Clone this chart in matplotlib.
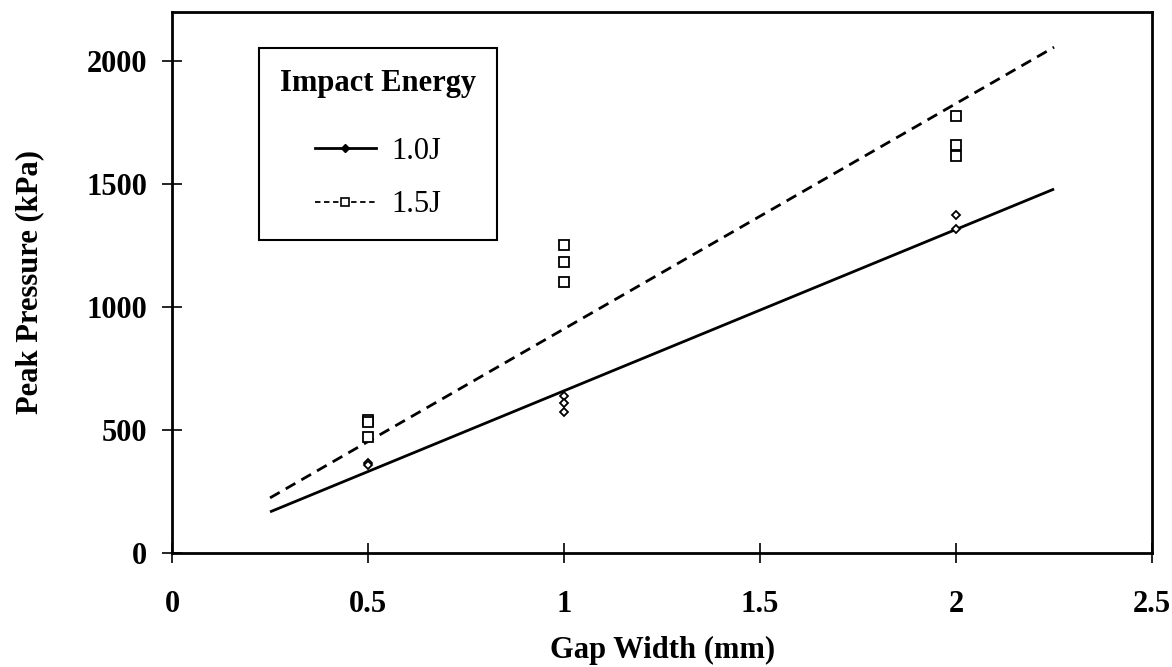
import matplotlib
matplotlib.use('Agg')
import matplotlib.pyplot as plt
from matplotlib.lines import Line2D

plt.rcParams['font.family'] = ['Liberation Serif', 'DejaVu Serif']

# measured peak pressures (kPa)
gap_10 = [0.5, 0.5, 1, 1, 1, 2, 2]
p_10 = [366, 358, 640, 610, 575, 1374, 1317]
gap_15 = [0.5, 0.5, 0.5, 1, 1, 1, 2, 2, 2]
p_15 = [541, 533, 472, 1252, 1183, 1102, 1776, 1659, 1614]

# trend lines, end points
trend_x = [0.25, 2.25]
trend_10 = [167, 1480]
trend_15 = [224, 2057]

xticks = [0, 0.5, 1, 1.5, 2, 2.5]
xtick_labels = ['0', '0.5', '1', '1.5', '2', '2.5']
yticks = [0, 500, 1000, 1500, 2000]

fig = plt.figure(figsize=(11.72, 6.67), dpi=100)
ax = fig.add_axes([0.1468, 0.171, 0.8362, 0.811])

ax.plot(trend_x, trend_10, color='black', lw=2.0, solid_capstyle='butt')
ax.plot(trend_x, trend_15, color='black', lw=2.0, linestyle=(0, (4, 2.5)))
ax.plot(gap_10, p_10, linestyle='none', marker='D', markersize=4.5,
        markerfacecolor='white', markeredgecolor='black', markeredgewidth=1.3)
ax.plot(gap_15, p_15, linestyle='none', marker='s', markersize=6.5,
        markerfacecolor='white', markeredgecolor='black', markeredgewidth=1.3)

ax.set_xlim(0, 2.5)
ax.set_ylim(0, 2200)
ax.set_xticks(xticks)
ax.set_xticklabels(xtick_labels)
ax.set_yticks(yticks)
ax.tick_params(direction='inout', length=14, width=1.2, labelsize=22)
ax.tick_params(axis='x', pad=20)
ax.tick_params(axis='y', pad=11)
for lab in ax.get_xticklabels() + ax.get_yticklabels():
    lab.set_fontweight('bold')
for s in ax.spines.values():
    s.set_linewidth(2.0)

ax.set_xlabel('Gap Width (mm)', fontsize=22, fontweight='bold', labelpad=12)
ax.set_ylabel('Peak Pressure (kPa)', fontsize=22, fontweight='bold', labelpad=30)

handles = [
    Line2D([], [], color='black', lw=2.0, marker='D', markersize=4,
           markerfacecolor='black'),
    Line2D([], [], color='black', lw=1.3, linestyle=(0, (3, 2)), marker='s',
           markersize=6, markerfacecolor='white', markeredgewidth=1.2),
]
leg = ax.legend(handles, ['1.0J', '1.5J'], title='Impact Energy',
                loc='upper left', bbox_to_anchor=(0.0888, 0.933),
                borderaxespad=0,
                fontsize=22, title_fontproperties={'weight': 'bold', 'size': 22},
                handlelength=2.0, handletextpad=0.5, labelspacing=0.8,
                borderpad=0.68, fancybox=False, edgecolor='black',
                framealpha=1, numpoints=1)
leg.get_frame().set_linewidth(1.5)
leg._legend_box.align = 'center'
leg._legend_box.sep = 28

fig.savefig('out.png', dpi=100)
